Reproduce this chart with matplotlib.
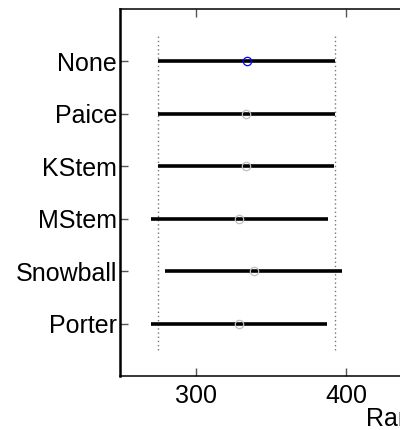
import matplotlib
matplotlib.use("Agg")
import matplotlib.pyplot as plt

# Data
groups = ["None", "Paice", "KStem", "MStem", "Snowball", "Porter"]
centers = [333.8, 333.5, 333.2, 328.8, 338.5, 328.7]
lowers = [274.9, 274.9, 274.5, 269.8, 279.6, 269.8]
uppers = [392.9, 392.5, 392.0, 387.8, 397.6, 387.6]
selected = "None"
xticks = [300, 400]
xlabel = "Rank"

plt.rcParams['font.family'] = ['Liberation Sans', 'DejaVu Sans']

fig = plt.figure(figsize=(4.0, 4.3), dpi=100)
ax = fig.add_axes([0.30, 54/430, 1.05 - 0.30, (376 - 9)/430])

n = len(groups)
ypos = list(range(n, 0, -1))

sel = groups.index(selected)
for xv in (lowers[sel], uppers[sel]):
    ax.plot([xv, xv], [0.5, n + 0.5], linestyle=(0, (1, 2.0)), color='#777777', lw=1.0, zorder=1)

for g, y, c, lo, hi in zip(groups, ypos, centers, lowers, uppers):
    ax.plot([lo, hi], [y, y], color='black', lw=2.6, solid_capstyle='butt', zorder=2)
    col = '#0000ff' if g == selected else '#c0c0c0'
    ax.plot([c], [y], marker='o', mfc='none', mec=col, ms=6, mew=0.9, zorder=3)

ax.set_xlim(249.3, 449.3)
ax.set_ylim(0, n + 1)
ax.set_xticks(xticks)
ax.set_yticks(ypos)
ax.set_yticklabels(groups)
ax.tick_params(axis='both', direction='in', length=6, width=1, color='#555555',
               labelsize=18, top=True, right=True)
ax.tick_params(axis='x', pad=6)
ax.tick_params(axis='y', pad=2)
for s in ax.spines.values():
    s.set_linewidth(1.1)
ax.spines['left'].set_linewidth(1.8)

ax.set_xlabel(xlabel, fontsize=18, ha='left')
ax.xaxis.set_label_coords((366 - 120) / (1.05 * 400 - 120), -0.085)

fig.savefig("out.png", dpi=100)
